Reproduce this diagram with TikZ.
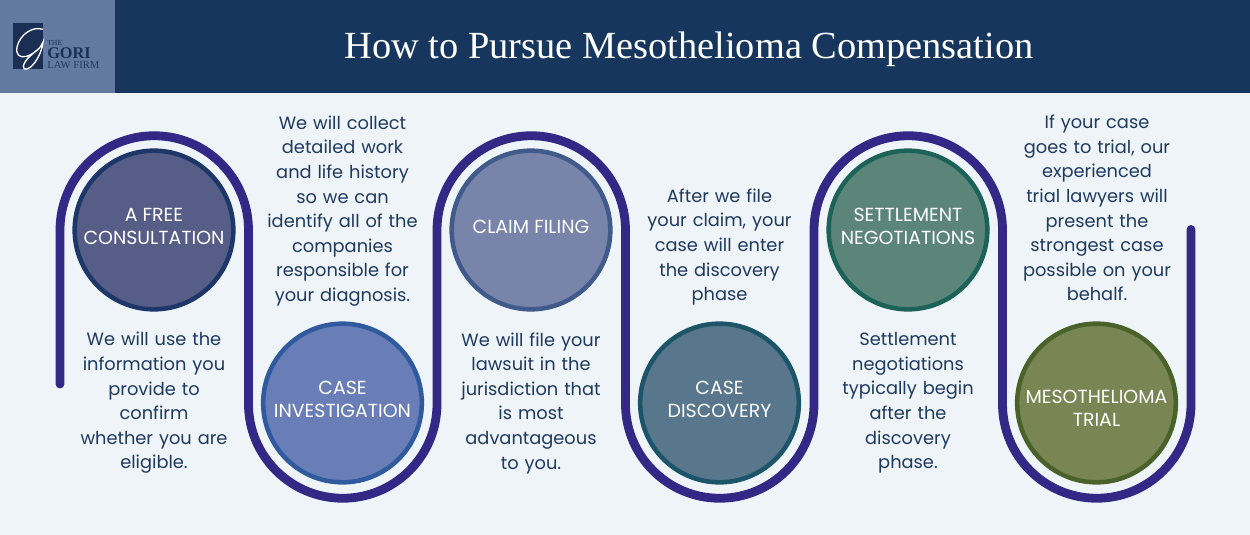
\documentclass[tikz,border=0pt]{standalone}
\usepackage{fontspec}
\setmainfont{Poppins}
\newfontfamily\titlefont{Liberation Serif}
\newfontfamily\logofont{Liberation Serif}
\newcommand\liftit{\rule[-4.8pt]{0pt}{4.8pt}}
\newcommand\dropit{\rule{0pt}{18pt}}
\definecolor{pagebg}{HTML}{EFF4F8}
\definecolor{navy}{HTML}{17365D}
\definecolor{logobg}{HTML}{64799F}
\definecolor{logoink}{HTML}{1B2F55}
\definecolor{pathc}{HTML}{332885}
\definecolor{ink}{HTML}{1E3A5F}
\definecolor{fa}{HTML}{565D86}\definecolor{da}{HTML}{1D3768}
\definecolor{fb}{HTML}{697EB7}\definecolor{db}{HTML}{2F5A9E}
\definecolor{fc}{HTML}{7884AA}\definecolor{dc}{HTML}{405A8C}
\definecolor{fd}{HTML}{58768C}\definecolor{dd}{HTML}{1C5469}
\definecolor{ff}{HTML}{5C857A}\definecolor{df}{HTML}{1C6258}
\definecolor{fh}{HTML}{7A8554}\definecolor{dh}{HTML}{48622A}
\tikzset{
 x=0.75pt,y=-0.75pt,
 bubble/.style={circle,draw,line width=3.4pt,minimum size=119pt,inner sep=0pt,align=center,text=white,font=\fontsize{14.2}{17.25}\selectfont},
 body/.style={align=center,text=ink,font=\fontsize{13.35}{18.45}\selectfont,inner sep=0pt,text width=120pt},
 snake/.style={draw=pathc,line width=6.6pt,line cap=round},
}
\begin{document}
\begin{tikzpicture}
\useasboundingbox (0,0) rectangle (1250,535);
\fill[pagebg] (0,0) rectangle (1250,535);
\fill[navy] (115,0) rectangle (1250,93);
\fill[logobg] (0,0) rectangle (115,93);
\node[text=white,font=\titlefont\fontsize{28.8}{34}\selectfont] (title) at (689,49) {How to Pursue Mesothelioma Compensation};
\fill[logoink] (12.5,23) rectangle (43,69.5);
\draw[white,line width=1pt,line cap=round] (42.7,29.3) .. controls (33,26) and (20,34) .. (17,47)
  .. controls (15.5,55) and (20,58) .. (26,56.5)
  .. controls (34,54) and (41,48) .. (43,42)
  .. controls (42,52) and (36,63) .. (30,67.5)
  .. controls (25,71) and (21,69) .. (25,62)
  .. controls (28,57) and (33,54) .. (37,50);
\node[text=logoink,font=\logofont\fontsize{5.8}{6}\selectfont,anchor=west,inner sep=0pt] (the) at (47,42.5) {THE};
\node[text=logoink,font=\logofont\bfseries\fontsize{12.2}{12}\selectfont,anchor=west,inner sep=0pt] (gori) at (47,53) {GORI};
\node[text=logoink!85!logobg,font=\logofont\fontsize{8}{8}\selectfont,anchor=west,inner sep=0pt] (law) at (47,65.5) {LAW FIRM};
\coordinate (s) at (60,384);
\coordinate (e) at (1191,229.4);
\draw[snake] (s) -- (60,230) arc[start angle=180,end angle=360,radius=94.25] -- (248.5,404)
 arc[start angle=180,end angle=0,radius=94.25] -- (437,230)
 arc[start angle=180,end angle=360,radius=94.25] -- (625.5,404)
 arc[start angle=180,end angle=0,radius=94.25] -- (814,230)
 arc[start angle=180,end angle=360,radius=94.25] -- (1002.5,404)
 arc[start angle=180,end angle=0,radius=94.25] -- (e);
\node[bubble,draw=da,fill=fa] (a) at (154,230) {A FREE\\CONSULTATION\liftit};
\node[bubble,draw=db,fill=fb] (b) at (342.5,403) {CASE\\INVESTIGATION\liftit};
\node[bubble,draw=dc,fill=fc] (c) at (531,230) {CLAIM FILING\liftit};
\node[bubble,draw=dd,fill=fd] (d) at (719.5,403) {CASE\\DISCOVERY\liftit};
\node[bubble,draw=df,fill=ff] (f) at (908,230) {SETTLEMENT\\NEGOTIATIONS\liftit};
\node[bubble,draw=dh,fill=fh] (h) at (1096.5,403) {\dropit MESOTHELIOMA\\TRIAL};
\node[body] (ta) at (154,403) {We will use the\\information you\\provide to\\confirm\\whether you are\\eligible.};
\node[body] (tb) at (342.5,211) {We will collect\\detailed work\\and life history\\so we can\\identify all of the\\companies\\responsible for\\your diagnosis.};
\node[body] (tc) at (531,403) {We will file your\\lawsuit in the\\jurisdiction that\\is most\\advantageous\\to you.};
\node[body] (td) at (719.5,247) {After we file\\your claim, your\\case will enter\\the discovery\\phase};
\node[body] (tf) at (908,403) {Settlement\\negotiations\\typically begin\\after the\\discovery\\phase.};
\node[body] (th) at (1097,208) {If your case\\goes to trial, our\\experienced\\trial lawyers will\\present the\\strongest case\\possible on your\\behalf.};
\end{tikzpicture}
\end{document}
